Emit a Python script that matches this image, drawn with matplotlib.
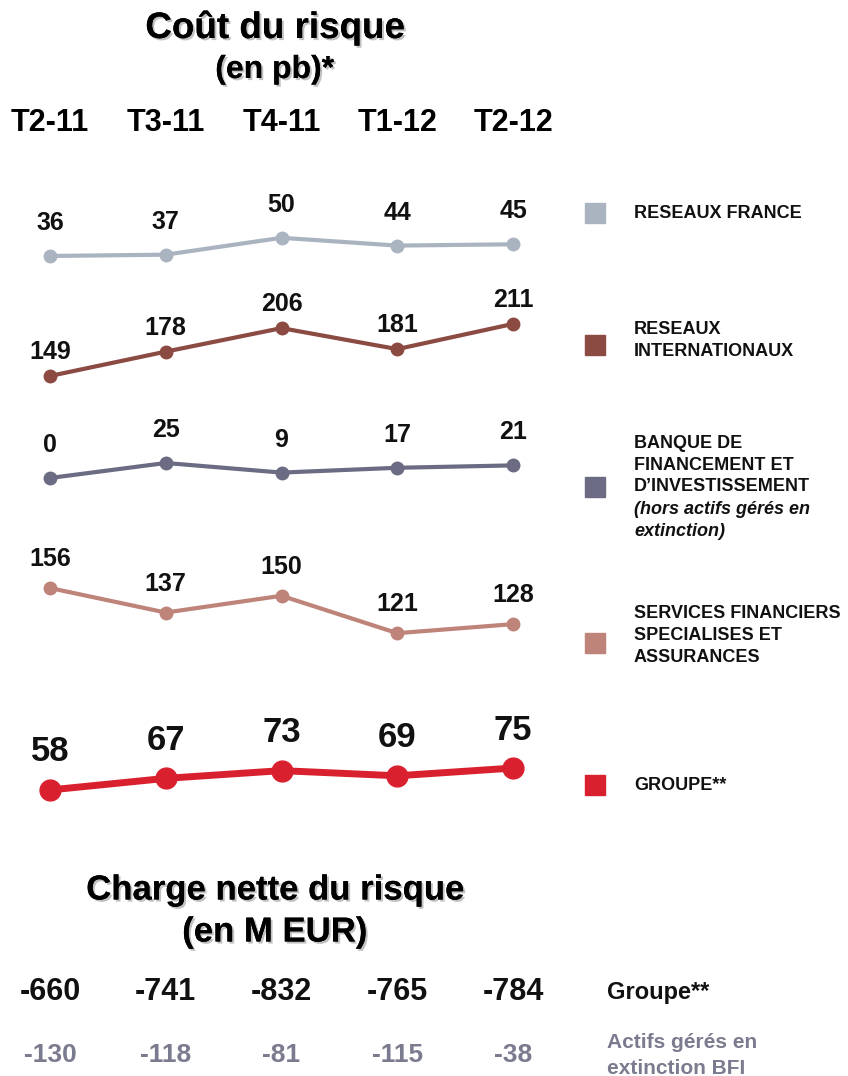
import matplotlib
matplotlib.use('Agg')
import matplotlib.pyplot as plt
import matplotlib.patheffects as pe
from matplotlib.transforms import blended_transform_factory

quarters = ['T2-11', 'T3-11', 'T4-11', 'T1-12', 'T2-12']

france = [36, 37, 50, 44, 45]
intl = [149, 178, 206, 181, 211]
bfi = [0, 25, 9, 17, 21]
sfs = [156, 137, 150, 121, 128]
groupe = [58, 67, 73, 69, 75]

charge_groupe = [-660, -741, -832, -765, -784]
charge_actifs = [-130, -118, -81, -115, -38]

W, H = 848, 1076
SANS = ['Liberation Sans', 'DejaVu Sans']

fig = plt.figure(figsize=(W / 100, H / 100), dpi=100)


def fx(px):
    return px / W


def fy(py):
    return 1 - py / H


# each panel: (values, colour, pixel band top/bottom, ylim, lw, marker size, label offset, label size)
panels = [
    (france, '#aab4c1', 190, 290, (9.8, 86.8), 3, 9, 33, 18),
    (intl, '#8b4a42', 290, 400, (120.4, 251.4), 3, 9, 24, 18),
    (bfi, '#6b6b83', 400, 500, (-36.7, 130), 3, 9, 33, 18),
    (sfs, '#bf8479', 530, 660, (100.2, 201), 3, 9, 29, 18),
    (groupe, '#d9202f', 700, 820, (34.7, 127.8), 5, 15, 38, 25),
]

x = list(range(len(quarters)))
xlim = (-50 / 115.75, 510 / 115.75)
axes = []
for vals, col, top, bot, ylim, lw, ms, off, fs in panels:
    ax = fig.add_axes([0, fy(bot), fx(560), (bot - top) / H])
    ax.plot(x, vals, color=col, lw=lw, marker='o', ms=ms, solid_capstyle='round')
    for xi, v in zip(x, vals):
        ax.annotate(str(v), (xi, v), xytext=(0, off), textcoords='offset pixels',
                    ha='center', va='center', fontsize=fs, fontweight='bold',
                    family=SANS, color='#111111')
    ax.set_xlim(*xlim)
    ax.set_ylim(*ylim)
    ax.axis('off')
    axes.append(ax)

tr = blended_transform_factory(axes[0].transData, fig.transFigure)

shadow = [pe.withSimplePatchShadow(offset=(1.5, -1.5), shadow_rgbFace='#999999', alpha=0.6), pe.Normal()]

fig.text(fx(275), fy(28), 'Coût du risque', ha='center', va='center', fontsize=26.5,
         fontweight='bold', family=SANS, path_effects=shadow)
fig.text(fx(275), fy(70), '(en pb)*', ha='center', va='center', fontsize=23,
         fontweight='bold', family=SANS, path_effects=shadow)

for xi, q in zip(x, quarters):
    fig.text(xi, fy(123), q, transform=tr, ha='center', va='center', fontsize=22,
             fontweight='bold', family=SANS)

# legend
legend = [
    ('#aab4c1', 213, 213, [('RESEAUX FRANCE', 'normal')]),
    ('#8b4a42', 345, 330, [('RESEAUX', 'normal'), ('INTERNATIONAUX', 'normal')]),
    ('#6b6b83', 487, 443, [('BANQUE DE', 'normal'), ('FINANCEMENT ET', 'normal'),
                           ('D\u2019INVESTISSEMENT', 'normal'),
                           ('(hors actifs gérés en', 'italic'), ('extinction)', 'italic')]),
    ('#bf8479', 643, 613, [('SERVICES FINANCIERS', 'normal'), ('SPECIALISES ET', 'normal'),
                           ('ASSURANCES', 'normal')]),
    ('#d9202f', 785, 785, [('GROUPE**', 'normal')]),
]
line_h = 22
for col, yc, y0, lines in legend:
    fig.patches.append(plt.Rectangle((fx(585), fy(yc + 10)), fx(20), 20 / H,
                                     transform=fig.transFigure, color=col))
    for i, (t, st) in enumerate(lines):
        fig.text(fx(634), fy(y0 + i * line_h), t, ha='left', va='center', fontsize=13,
                 fontweight='bold', style=st, family=SANS, color='#111111')

# bottom: charge nette du risque
fig.text(fx(275), fy(890), 'Charge nette du risque', ha='center', va='center', fontsize=25,
         fontweight='bold', family=SANS, path_effects=shadow)
fig.text(fx(275), fy(932), '(en M EUR)', ha='center', va='center', fontsize=25,
         fontweight='bold', family=SANS, path_effects=shadow)

for xi, v in zip(x, charge_groupe):
    fig.text(xi, fy(992), str(v), transform=tr, ha='center', va='center', fontsize=22,
             fontweight='bold', family=SANS, color='#111111')
for xi, v in zip(x, charge_actifs):
    fig.text(xi, fy(1055), str(v), transform=tr, ha='center', va='center', fontsize=19,
             fontweight='bold', family=SANS, color='#7b7b8f')

fig.text(fx(607), fy(993), 'Groupe**', ha='left', va='center', fontsize=17,
         fontweight='bold', family=SANS, color='#111111')
fig.text(fx(607), fy(1043), 'Actifs gérés en', ha='left', va='center', fontsize=15,
         fontweight='bold', family=SANS, color='#7b7b8f')
fig.text(fx(607), fy(1068), 'extinction BFI', ha='left', va='center', fontsize=15,
         fontweight='bold', family=SANS, color='#7b7b8f')

fig.savefig('out.png', dpi=100)
